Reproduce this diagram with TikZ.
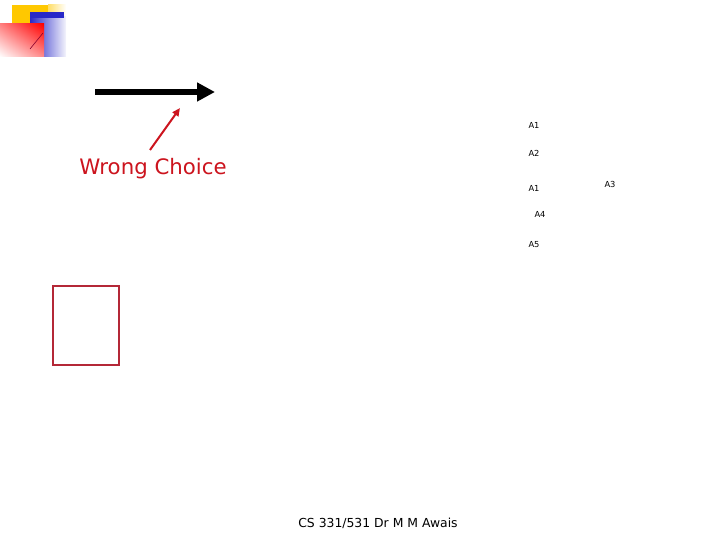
\documentclass[tikz,border=0pt]{standalone}
\usepackage{fontspec}
\setmainfont{DejaVu Sans}
\usetikzlibrary{arrows.meta,shadings}
\definecolor{wrongred}{RGB}{204,20,30}
\definecolor{boxred}{RGB}{180,40,55}
\definecolor{logoyellow}{RGB}{255,200,0}
\definecolor{logoblue}{RGB}{40,40,200}
\tikzset{
  lbl/.style={font=\fontsize{8.3}{9}\selectfont, inner sep=0pt, anchor=center},
}
\begin{document}
\begin{tikzpicture}[x=1pt,y=-1pt]
\useasboundingbox (0,0) rectangle (720,540);
% logo
\fill[logoyellow] (12,5) rectangle (48,24);
\shade[left color=logoyellow!60, right color=white] (48,5) rectangle (66,24);
\shade[left color=logoblue, right color=logoblue!5] (30,17) rectangle (66,57);
\fill[logoblue] (30,12) rectangle (64,18);
\shade[lower left=white, upper right=red, upper left=red!50, lower right=red!45] (0,24) rectangle (44,57);
\draw[draw=purple!70!black, line width=0.6pt] (30,49) -- (43,33);
% black arrow
\coordinate (ba) at (95,92);
\coordinate (bb) at (215,92);
\draw[line width=5.5pt, -{Triangle[length=18pt,width=18pt]}] (ba) -- (bb);
% wrong choice
\node[text=wrongred, font=\fontsize{21.3}{24}\selectfont, inner sep=0pt] (wc) at (153,169) {Wrong Choice};
\coordinate (ra) at (150,150);
\coordinate (rb) at (180,108);
\draw[wrongred, line width=2pt, -{Triangle[length=8pt,width=7pt]}] (ra) -- (rb);
% labels
\node[lbl] (a1) at (534,125) {A1};
\node[lbl] (a2) at (534,153) {A2};
\node[lbl] (a1b) at (534,188) {A1};
\node[lbl] (a4) at (540,214) {A4};
\node[lbl] (a5) at (534,245) {A5};
\node[lbl] (a3) at (610,184) {A3};
% red box
\node[draw=boxred, line width=1.3pt, minimum width=66pt, minimum height=79pt, inner sep=0pt] (box) at (86,325.5) {};
% footer
\node[font=\fontsize{12.4}{14}\selectfont, inner sep=0pt] (foot) at (378,523) {CS 331/531 Dr M M Awais};
\end{tikzpicture}
\end{document}
